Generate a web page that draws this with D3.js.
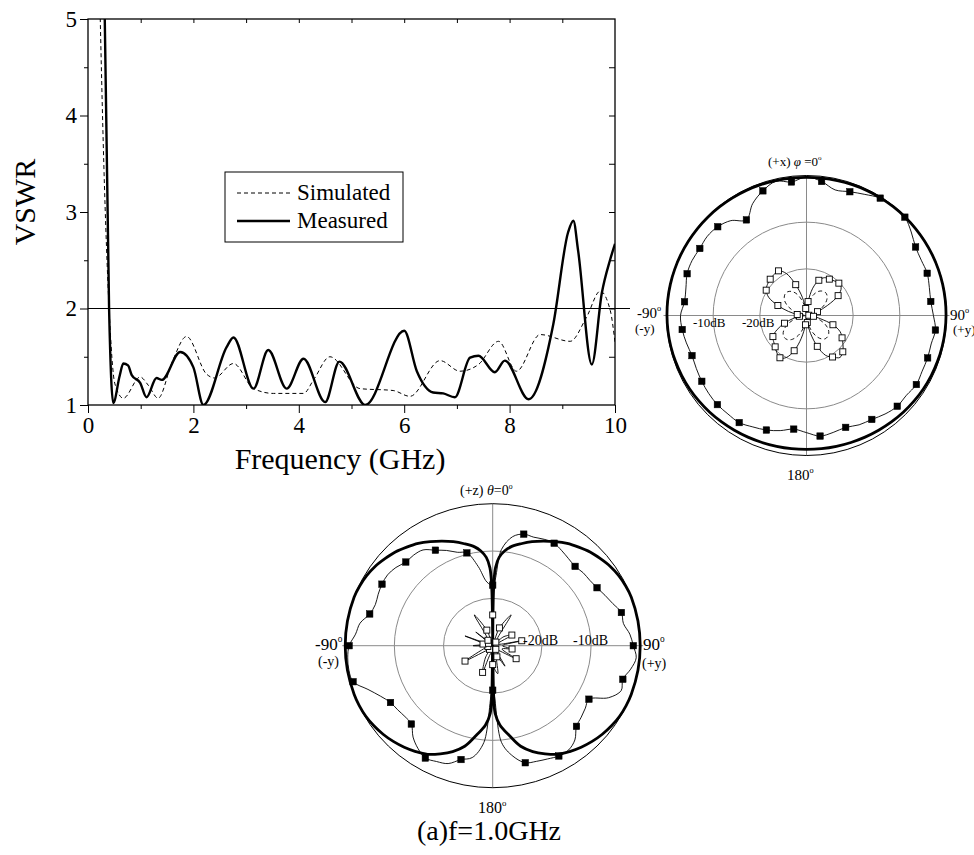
<!DOCTYPE html>
<html><head><meta charset="utf-8">
<script src="https://cdn.jsdelivr.net/npm/d3@7"></script>
<style>
body{margin:0;background:#fff}
svg{display:block}
text{font-family:"Liberation Serif","Times New Roman",Times,serif;fill:#000}
</style>
</head><body>
<svg id="c" width="974" height="855"></svg>
<script>
// ---------------- DATA ----------------
// VSWR chart
const freqTicks = [0, 2, 4, 6, 8, 10];
const vswrTicks = [1, 2, 3, 4, 5];
const simFreq = [0.22,0.30,0.40,0.51,0.67,0.99,1.15,1.33,1.60,1.87,2.25,2.40,2.76,3.14,3.52,4.09,4.28,4.59,5.16,5.79,6.11,6.68,7.06,7.41,7.79,8.13,8.58,9.15,9.46,9.72,9.91,10.0];
const simVSWR = [5.3,3.5,2.0,1.22,1.07,1.29,1.20,1.07,1.45,1.71,1.32,1.28,1.43,1.17,1.12,1.12,1.26,1.50,1.17,1.15,1.09,1.46,1.35,1.42,1.66,1.35,1.73,1.66,1.91,2.18,1.98,1.65];
const measFreq = [0.31,0.40,0.48,0.60,0.67,0.76,0.83,0.99,1.11,1.30,1.40,1.75,2.00,2.19,2.63,2.76,3.14,3.42,3.77,4.09,4.50,4.77,5.26,6.00,6.24,6.55,6.74,6.96,7.25,7.41,7.72,7.91,8.36,8.83,9.11,9.21,9.30,9.56,9.75,9.91,10.0];
const measVSWR = [5.3,2.0,1.02,1.30,1.43,1.41,1.31,1.23,1.08,1.28,1.26,1.55,1.39,1.00,1.60,1.70,1.17,1.57,1.17,1.48,1.03,1.45,1.00,1.77,1.35,1.13,1.12,1.08,1.49,1.51,1.34,1.46,1.06,1.84,2.79,2.91,2.60,1.42,2.16,2.51,2.67];
const legendLabels = ["Simulated", "Measured"];

// H-plane (xy) pattern, 56 samples, 360/56 deg apart, values in dB
const hAngles = [0,6.43,12.86,19.29,25.71,32.14,38.57,45,51.43,57.86,64.29,70.71,77.14,83.57,90,96.43,102.86,109.29,115.71,122.14,128.57,135,141.43,147.86,154.29,160.71,167.14,173.57,180,186.43,192.86,199.29,205.71,212.14,218.57,225,231.43,237.86,244.29,250.71,257.14,263.57,270,276.43,282.86,289.29,295.71,302.14,308.57,315,321.43,327.86,334.29,340.71,347.14,353.57];
const hSimCo = [-0.4,-0.38,-0.35,-0.3,-0.26,-0.22,-0.18,-0.15,-0.12,-0.1,-0.08,-0.07,-0.07,-0.08,-0.1,-0.13,-0.18,-0.25,-0.33,-0.43,-0.55,-0.68,-0.82,-0.95,-1.07,-1.17,-1.24,-1.28,-1.3,-1.28,-1.24,-1.17,-1.07,-0.95,-0.82,-0.68,-0.55,-0.43,-0.33,-0.25,-0.18,-0.13,-0.1,-0.08,-0.07,-0.07,-0.08,-0.1,-0.12,-0.15,-0.18,-0.22,-0.26,-0.3,-0.35,-0.38];
const hMeasCo = [-0.3,-1.1,-2.4,-1.9,-1.2,-0.3,-0.2,-0.2,-1.3,-2.4,-2.7,-2.6,-3.0,-3.2,-2.8,-2.2,-2.6,-2.5,-2.5,-2.2,-2.6,-2.5,-3.0,-3.7,-4.0,-4.6,-4.3,-4.0,-4.9,-5.5,-4.7,-4.0,-3.5,-2.9,-3.0,-3.0,-3.2,-3.5,-3.8,-4.0,-3.6,-3.2,-3.0,-3.7,-3.5,-2.9,-2.8,-3.0,-2.8,-3.1,-4.0,-5.8,-3.4,-1.7,-0.5,-1.2];
const hSimCross = [-30,-28.5,-26.5,-25.2,-24.3,-23.8,-23.6,-23.8,-24.4,-25.3,-26.5,-27.8,-29,-29.8,-30,-29.6,-28.3,-26.8,-25.5,-24.5,-23.9,-23.6,-23.6,-24.1,-25,-26.3,-27.8,-29.2,-30,-29.2,-27.6,-26,-24.8,-23.9,-23.4,-23.3,-23.6,-24.3,-25.4,-26.8,-28.2,-29.5,-30,-29.6,-28.4,-27,-25.7,-24.6,-23.9,-23.5,-23.5,-23.9,-24.7,-26,-27.6,-29.2];
const hMeasCross = [-29,-27,-24,-22,-21,-20.8,-20.5,-20.2,-20.5,-22,-25,-27.5,-29,-29.5,-29,-28.5,-27,-24,-22,-21,-20,-19,-18.5,-19.5,-20.5,-23,-26,-28.5,-29.5,-28,-25,-22,-20,-19.3,-19.8,-20.5,-21,-21.5,-23,-25,-27,-28.5,-29,-28,-26,-23.5,-21,-19.8,-19.3,-19,-18.8,-18.7,-20,-23,-26,-28.5];

// E-plane (yz) pattern
const eSimAngles = [0,1,2,4,7,10,15,20,25,30,35,40,45,50,55,60,65,70,80,90,100,110,115,120,125,130,135,140,145,150,155,160,165,170,175,178,179,180,181,182,185,190,195,200,205,210,215,220,225,230,235,240,245,250,260,270,280,290,295,300,305,310,315,320,325,330,335,340,345,350,353,356,358,359,360];
const eSimCo = [-30,-17,-13.5,-11.3,-9.8,-8.8,-7.7,-6.6,-5.6,-4.6,-3.6,-2.8,-2.0,-1.4,-0.8,-0.4,-0.15,0,0,0,0,0,-0.05,-0.2,-0.5,-0.9,-1.4,-2.0,-2.7,-3.5,-4.8,-6.2,-8.0,-10.8,-13.2,-15.7,-20,-30,-20,-15.7,-13.2,-10.8,-8.0,-6.2,-4.8,-3.5,-2.7,-2.0,-1.4,-0.9,-0.5,-0.2,-0.05,0,0,0,0,0,-0.15,-0.4,-0.8,-1.4,-2.0,-2.8,-3.6,-4.6,-5.6,-6.6,-7.7,-8.8,-9.8,-11.3,-13.5,-17,-30];
const eMeasAngles = [0,5,10,15,20,25,30,35,40,45,50,55,60,65,70,75,80,85,90,95,100,105,110,115,120,125,130,135,140,145,150,155,160,165,170,175,180,185,190,195,200,205,210,215,220,225,230,235,240,245,250,255,260,265,270,275,280,285,290,295,300,305,310,315,320,325,330,335,340,345,350,355];
const eMeasCo = [-17.2,-9.6,-6.6,-5.6,-5.6,-5.2,-5.0,-5.5,-6.0,-6.3,-6.0,-5.9,-5.5,-4.8,-4.0,-2.9,-3.0,-2.0,-1.4,-0.7,-1.5,-2.6,-2.2,-4.0,-7.4,-7.0,-6.5,-5.9,-4.0,-3.1,-3.1,-3.6,-4.0,-4.4,-6.3,-9.5,-20.6,-9.5,-6.0,-5.1,-3.5,-3.0,-2.6,-3.5,-4.8,-6.6,-6.7,-6.4,-6.0,-4.8,-3.0,-0.6,-0.3,-0.4,-0.8,-2.0,-2.6,-4.1,-4.6,-4.3,-4.0,-3.9,-4.3,-5.0,-5.0,-5.3,-6.7,-7.8,-9.0,-9.7,-13.0,-16.5];
const eCrossAngles = [0,10,20,30,40,50,60,70,80,90,100,110,120,130,140,150,160,170,180,190,200,210,220,230,240,250,260,270,280,290,300,310,320,330,340,350];
const eMeasCross = [-23.5,-29,-26,-22.5,-29,-27,-25.5,-29,-24,-28,-26,-28,-24.5,-28.5,-29,-25,-27.5,-24,-26,-28.5,-24,-27,-29,-28.5,-23.5,-28,-29,-26,-28,-24,-29,-25.5,-28.5,-22.5,-26.5,-29];

// ---------------- DRAW ----------------
const svg = d3.select("#c");
const SERIF = '"Liberation Serif","Times New Roman",Times,serif';

// ===== VSWR chart =====
const x = d3.scaleLinear().domain([0, 10]).range([88, 615]);
const y = d3.scaleLinear().domain([1, 5]).range([405, 19]);

svg.append("clipPath").attr("id", "plotclip")
  .append("rect").attr("x", x(0)).attr("y", y(5)).attr("width", x(10) - x(0)).attr("height", y(1) - y(5));

function styleAxis(g, size) {
  g.attr("font-family", null).attr("font-size", null);
  g.select(".domain").remove();
  g.selectAll(".tick line").attr("stroke", "#000").attr("stroke-width", 1);
  g.selectAll(".tick text").attr("font-family", SERIF).style("font-family", SERIF)
    .style("font-size", size + "px").attr("fill", "#000");
}
const gL = svg.append("g").attr("transform", `translate(${x(0)},0)`)
  .call(d3.axisLeft(y).tickValues(vswrTicks).tickSize(8).tickPadding(3).tickFormat(d3.format("d")));
styleAxis(gL, 23);
const gLm = svg.append("g").attr("transform", `translate(${x(0)},0)`)
  .call(d3.axisLeft(y).tickValues([1.5, 2.5, 3.5, 4.5]).tickSize(4).tickFormat(""));
styleAxis(gLm, 23);
const gB = svg.append("g").attr("transform", `translate(0,${y(1)})`)
  .call(d3.axisBottom(x).tickValues(freqTicks).tickSize(8).tickPadding(4).tickFormat(d3.format("d")));
styleAxis(gB, 23);
const gBm = svg.append("g").attr("transform", `translate(0,${y(1)})`)
  .call(d3.axisBottom(x).tickValues([1, 3, 5, 7, 9]).tickSize(4).tickFormat(""));
styleAxis(gBm, 23);
const gT = svg.append("g").attr("transform", `translate(0,${y(5)})`)
  .call(d3.axisTop(x).tickValues(d3.range(1, 10)).tickSize(-4).tickFormat(""));
styleAxis(gT, 23);
const gR = svg.append("g").attr("transform", `translate(${x(10)},0)`)
  .call(d3.axisRight(y).tickValues([1.5, 2, 2.5, 3, 3.5, 4, 4.5]).tickSize(-6).tickFormat(""));
styleAxis(gR, 23);

svg.append("rect").attr("x", x(0)).attr("y", y(5)).attr("width", x(10) - x(0)).attr("height", y(1) - y(5))
  .attr("fill", "none").attr("stroke", "#000").attr("stroke-width", 1.3);

// VSWR = 2 reference line
svg.append("line").attr("x1", x(0)).attr("x2", x(10) + 15).attr("y1", y(2)).attr("y2", y(2))
  .attr("stroke", "#000").attr("stroke-width", 1.2);

const vLine = d3.line().x(d => x(d[0])).y(d => y(d[1])).curve(d3.curveMonotoneX);
const plotG = svg.append("g").attr("clip-path", "url(#plotclip)");
plotG.append("path").datum(d3.zip(simFreq, simVSWR)).attr("d", vLine)
  .attr("fill", "none").attr("stroke", "#000").attr("stroke-width", 1).attr("stroke-dasharray", "4,3");
plotG.append("path").datum(d3.zip(measFreq, measVSWR)).attr("d", vLine)
  .attr("fill", "none").attr("stroke", "#000").attr("stroke-width", 2.4);

// legend
const lg = svg.append("g");
lg.append("rect").attr("x", 225).attr("y", 172).attr("width", 178).attr("height", 70)
  .attr("fill", "#fff").attr("stroke", "#000").attr("stroke-width", 1);
lg.append("line").attr("x1", 237).attr("x2", 290).attr("y1", 193).attr("y2", 193)
  .attr("stroke", "#000").attr("stroke-width", 1).attr("stroke-dasharray", "4,3");
lg.append("line").attr("x1", 237).attr("x2", 290).attr("y1", 221).attr("y2", 221)
  .attr("stroke", "#000").attr("stroke-width", 2.4);
lg.selectAll("text.lt").data(legendLabels).join("text").attr("class", "lt")
  .attr("x", 297).attr("y", (d, i) => 200 + i * 28)
  .style("font-family", SERIF).style("font-size", "23px").text(d => d);

// axis titles
svg.append("text").attr("x", 340).attr("y", 469).attr("text-anchor", "middle")
  .style("font-family", SERIF).style("font-size", "30px").text("Frequency (GHz)");
svg.append("text").attr("transform", "translate(35,202) rotate(-90)").attr("text-anchor", "middle")
  .style("font-family", SERIF).style("font-size", "30px").text("VSWR");

// ===== polar helpers =====
const rS = d3.scaleLinear().domain([-30, 0]).range([0, 1]).clamp(true);
function makePolar(cx, cy, rx, ry) {
  const px = (a, v) => cx + rx * rS(v) * Math.sin(a * Math.PI / 180);
  const py = (a, v) => cy - ry * rS(v) * Math.cos(a * Math.PI / 180);
  return { px, py };
}
function drawGrid(g, cx, cy, rx, ry) {
  [-20, -10].forEach(v => {
    g.append("ellipse").attr("cx", cx).attr("cy", cy).attr("rx", rx * rS(v)).attr("ry", ry * rS(v))
      .attr("fill", "none").attr("stroke", "#8a8a8a").attr("stroke-width", 1);
  });
  g.append("line").attr("x1", cx).attr("x2", cx).attr("y1", cy - ry).attr("y2", cy + ry)
    .attr("stroke", "#8a8a8a").attr("stroke-width", 1);
  g.append("line").attr("x1", cx - rx - 3).attr("x2", cx + rx + 3).attr("y1", cy).attr("y2", cy)
    .attr("stroke", "#8a8a8a").attr("stroke-width", 1);
  g.append("ellipse").attr("cx", cx).attr("cy", cy).attr("rx", rx).attr("ry", ry)
    .attr("fill", "none").attr("stroke", "#000").attr("stroke-width", 1);
}
function patternPath(g, P, angles, vals, closed, width, dash) {
  const pts = angles.map((a, i) => [P.px(a, vals[i]), P.py(a, vals[i])]);
  const ln = d3.line().curve(closed ? d3.curveCatmullRomClosed.alpha(0.5) : d3.curveCatmullRom.alpha(0.5));
  const p = g.append("path").attr("d", ln(pts)).attr("fill", "none").attr("stroke", "#000")
    .attr("stroke-width", width).attr("stroke-linejoin", "round");
  if (dash) p.attr("stroke-dasharray", dash);
}
function markers(g, P, angles, vals, filter, filled, size) {
  const pts = angles.map((a, i) => ({ a, v: vals[i], i })).filter(d => filter(d.i));
  g.selectAll(null).data(pts).join("rect")
    .attr("x", d => P.px(d.a, d.v) - size / 2).attr("y", d => P.py(d.a, d.v) - size / 2)
    .attr("width", size).attr("height", size)
    .attr("fill", filled ? "#000" : "#fff").attr("stroke", "#000").attr("stroke-width", filled ? 0.5 : 0.9);
}
function degLabel(g, xx, yy, main, size, extra) {
  const t = g.append("text").attr("x", xx).attr("y", yy)
    .style("font-family", SERIF).style("font-size", size + "px");
  if (extra && extra.pre) t.append("tspan").text(extra.pre);
  if (extra && extra.ital) t.append("tspan").style("font-style", "italic").text(extra.ital);
  t.append("tspan").text(main);
  t.append("tspan").attr("dy", -size * 0.45).style("font-size", (size * 0.55) + "px").text("o");
  return t;
}
function plainLabel(g, xx, yy, txt, size, anchor) {
  return g.append("text").attr("x", xx).attr("y", yy).attr("text-anchor", anchor || "start")
    .style("font-family", SERIF).style("font-size", size + "px").text(txt);
}

// ===== H-plane polar (right) =====
{
  const cx = 806.5, cy = 315.5, R = 140;
  const g = svg.append("g");
  drawGrid(g, cx, cy, R, R);
  const P = makePolar(cx, cy, R, R);
  patternPath(g, P, hAngles, hSimCo, true, 2.8);
  patternPath(g, P, hAngles, hSimCross, true, 0.9, "4,3");
  patternPath(g, P, hAngles, hMeasCo, true, 0.9);
  patternPath(g, P, hAngles, hMeasCross, true, 0.9);
  markers(g, P, hAngles, hMeasCo, i => i % 2 === 1, true, 6.5);
  markers(g, P, hAngles, hMeasCross, i => i % 2 === 1, false, 6);
  degLabel(g, 768, 166, " =0", 13, { pre: "(+x) ", ital: "φ" });
  degLabel(g, 637, 318, "-90", 15);
  plainLabel(g, 635, 333, "(-y)", 13);
  plainLabel(g, 693, 327, "-10dB", 13);
  plainLabel(g, 742, 327, "-20dB", 13);
  degLabel(g, 950, 320, "90", 15);
  plainLabel(g, 953, 334, "(+y)", 13);
  degLabel(g, 787, 480, "180", 15);
}

// ===== E-plane polar (bottom) =====
{
  const cx = 492.7, cy = 645.7, rx = 147.5, ry = 142;
  const g = svg.append("g");
  drawGrid(g, cx, cy, rx, ry);
  const P = makePolar(cx, cy, rx, ry);
  patternPath(g, P, eSimAngles, eSimCo, false, 2.8);
  patternPath(g, P, eMeasAngles, eMeasCo, true, 0.9);
  patternPath(g, P, eCrossAngles, eMeasCross, true, 0.9);
  markers(g, P, eMeasAngles, eMeasCo, i => i % 3 === 0, true, 6.5);
  markers(g, P, eCrossAngles, eMeasCross, i => i % 2 === 0, false, 6);
  degLabel(g, 460, 495, "=0", 14, { pre: "(+z) ", ital: "θ" });
  degLabel(g, 315, 650, "-90", 17);
  plainLabel(g, 318, 666, "(-y)", 14);
  degLabel(g, 643, 650, "90", 17);
  plainLabel(g, 642, 668, "(+y)", 14);
  plainLabel(g, 523, 645, "-20dB", 14);
  plainLabel(g, 573, 645, "-10dB", 14);
  degLabel(g, 478, 813, "180", 16);
  plainLabel(g, 489, 840, "(a)f=1.0GHz", 28, "middle");
}
</script>
</body></html>
